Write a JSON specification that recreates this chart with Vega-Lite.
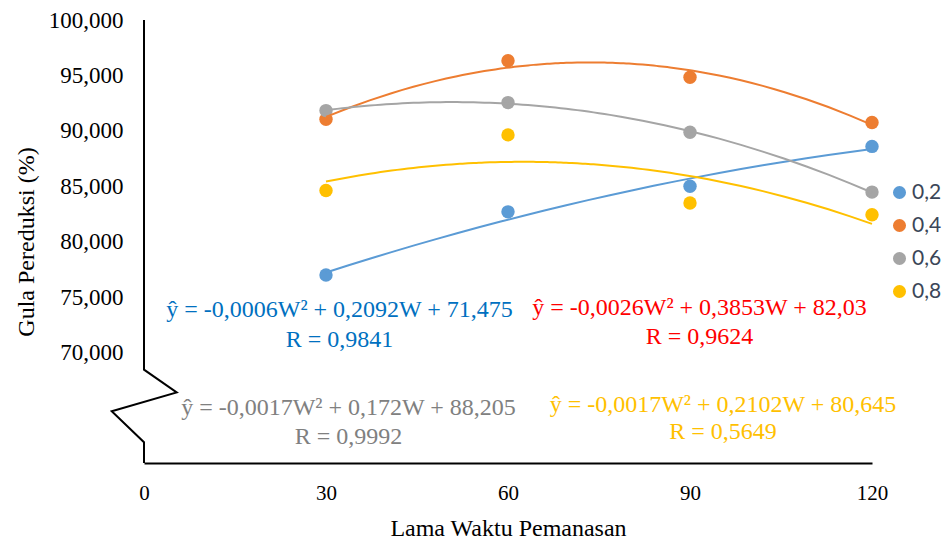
{
  "$schema": "https://vega.github.io/schema/vega-lite/v6.json",
  "width": 728,
  "height": 443,
  "autosize": {"type": "none"},
  "padding": {"left": 144, "top": 20, "right": 72, "bottom": 80},
  "background": "white",
  "config": {"view": {"stroke": null}, "font": "Liberation Serif"},
  "datasets": {
    "obs": [
      {"time": 30, "value": 77.0, "series": "0,2"},
      {"time": 60, "value": 82.7, "series": "0,2"},
      {"time": 90, "value": 85.0, "series": "0,2"},
      {"time": 120, "value": 88.6, "series": "0,2"},
      {"time": 30, "value": 91.05, "series": "0,4"},
      {"time": 60, "value": 96.33, "series": "0,4"},
      {"time": 90, "value": 94.84, "series": "0,4"},
      {"time": 120, "value": 90.75, "series": "0,4"},
      {"time": 30, "value": 91.83, "series": "0,6"},
      {"time": 60, "value": 92.55, "series": "0,6"},
      {"time": 90, "value": 89.88, "series": "0,6"},
      {"time": 120, "value": 84.48, "series": "0,6"},
      {"time": 30, "value": 84.62, "series": "0,8"},
      {"time": 60, "value": 89.64, "series": "0,8"},
      {"time": 90, "value": 83.49, "series": "0,8"},
      {"time": 120, "value": 82.43, "series": "0,8"}
    ],
    "brokenAxis": [
      {"k": 0, "time": 0, "value": 100},
      {"k": 1, "time": 0, "value": 68.47},
      {"k": 2, "time": 5.39, "value": 66.42},
      {"k": 3, "time": -5.32, "value": 64.71},
      {"k": 4, "time": 0, "value": 61.92},
      {"k": 5, "time": 0, "value": 60.05}
    ],
    "notes": [
      {"series": "0,2", "lines": ["ŷ = -0,0006W² + 0,2092W + 71,475", "R = 0,9841"]},
      {"series": "0,4", "lines": ["ŷ = -0,0026W² + 0,3853W + 82,03", "R = 0,9624"]},
      {"series": "0,6", "lines": ["ŷ = -0,0017W² + 0,172W + 88,205", "R = 0,9992"]},
      {"series": "0,8", "lines": ["ŷ = -0,0017W² + 0,2102W + 80,645", "R = 0,5649"]}
    ]
  },
  "layer": [
    {
      "data": {"name": "brokenAxis"},
      "mark": {"type": "line", "color": "black", "strokeWidth": 2, "clip": false},
      "encoding": {
        "x": {"field": "time", "type": "quantitative", "title": "Lama Waktu Pemanasan"},
        "y": {"field": "value", "type": "quantitative", "title": "Gula Pereduksi (%)"},
        "order": {"field": "k", "type": "quantitative"}
      }
    },
    {
      "data": {"name": "obs"},
      "mark": {"type": "circle", "size": 180, "opacity": 1},
      "encoding": {
        "x": {
          "field": "time",
          "type": "quantitative",
          "title": "Lama Waktu Pemanasan",
          "scale": {"domain": [0, 120], "nice": false, "zero": false},
          "axis": {
            "values": [0, 30, 60, 90, 120],
            "grid": false,
            "ticks": false,
            "domain": true,
            "domainColor": "black",
            "domainWidth": 2,
            "labelFont": "Liberation Serif",
            "labelFontSize": 21,
            "labelColor": "black",
            "labelPadding": 19,
            "labelFlush": false,
            "titleFont": "Liberation Serif",
            "titleFontSize": 24,
            "titleFontWeight": "normal",
            "titleColor": "black",
            "titlePadding": 13
          }
        },
        "y": {
          "field": "value",
          "type": "quantitative",
          "title": "Gula Pereduksi (%)",
          "scale": {"domain": [60.05, 100], "nice": false, "zero": false},
          "axis": {
            "values": [70, 75, 80, 85, 90, 95, 100],
            "labelExpr": "replace(format(datum.value, '.3f'), '.', ',')",
            "grid": false,
            "ticks": false,
            "domain": false,
            "labelFont": "Liberation Serif",
            "labelFontSize": 23,
            "labelColor": "black",
            "labelPadding": 21,
            "labelFlush": false,
            "titleFont": "Liberation Serif",
            "titleFontSize": 24,
            "titleFontWeight": "normal",
            "titleColor": "black",
            "titlePadding": 10
          }
        },
        "color": {
          "field": "series",
          "type": "nominal",
          "scale": {
            "domain": ["0,2", "0,4", "0,6", "0,8"],
            "range": ["#5B9BD5", "#ED7D31", "#A5A5A5", "#FFC000"]
          },
          "legend": {
            "title": null,
            "orient": "none",
            "legendX": 745,
            "legendY": 162,
            "padding": 0,
            "rowPadding": 11,
            "symbolType": "circle",
            "symbolSize": 170,
            "symbolStrokeWidth": 0,
            "labelFont": "Lato",
            "labelFontSize": 21,
            "labelColor": "#3B4658",
            "labelOffset": 2
          }
        }
      }
    },
    {
      "data": {"name": "obs"},
      "transform": [
        {
          "regression": "value",
          "on": "time",
          "groupby": ["series"],
          "method": "poly",
          "order": 2,
          "extent": [30, 120]
        }
      ],
      "mark": {"type": "line", "strokeWidth": 2},
      "encoding": {
        "x": {"field": "time", "type": "quantitative", "title": "Lama Waktu Pemanasan"},
        "y": {"field": "value", "type": "quantitative", "title": "Gula Pereduksi (%)"},
        "color": {"field": "series", "type": "nominal", "legend": null}
      }
    },
    {
      "data": {"name": "notes"},
      "transform": [{"filter": "datum.series === '0,2'"}],
      "mark": {
        "type": "text",
        "lineHeight": 30,
        "align": "center",
        "baseline": "middle",
        "font": "Liberation Serif",
        "fontSize": 24,
        "color": "#0070C0",
        "clip": false
      },
      "encoding": {
        "x": {"datum": 32.23, "type": "quantitative", "title": "Lama Waktu Pemanasan"},
        "y": {"datum": 73.85, "type": "quantitative", "title": "Gula Pereduksi (%)"},
        "text": {"field": "lines"}
      }
    },
    {
      "data": {"name": "notes"},
      "transform": [{"filter": "datum.series === '0,4'"}],
      "mark": {
        "type": "text",
        "lineHeight": 29,
        "align": "center",
        "baseline": "middle",
        "font": "Liberation Serif",
        "fontSize": 24,
        "color": "#FF0000",
        "clip": false
      },
      "encoding": {
        "x": {"datum": 91.57, "type": "quantitative", "title": "Lama Waktu Pemanasan"},
        "y": {"datum": 74.03, "type": "quantitative", "title": "Gula Pereduksi (%)"},
        "text": {"field": "lines"}
      }
    },
    {
      "data": {"name": "notes"},
      "transform": [{"filter": "datum.series === '0,6'"}],
      "mark": {
        "type": "text",
        "lineHeight": 29,
        "align": "center",
        "baseline": "middle",
        "font": "Liberation Serif",
        "fontSize": 24,
        "color": "#808080",
        "clip": false
      },
      "encoding": {
        "x": {"datum": 33.71, "type": "quantitative", "title": "Lama Waktu Pemanasan"},
        "y": {"datum": 65.01, "type": "quantitative", "title": "Gula Pereduksi (%)"},
        "text": {"field": "lines"}
      }
    },
    {
      "data": {"name": "notes"},
      "transform": [{"filter": "datum.series === '0,8'"}],
      "mark": {
        "type": "text",
        "lineHeight": 27,
        "align": "center",
        "baseline": "middle",
        "font": "Liberation Serif",
        "fontSize": 24,
        "color": "#FFC000",
        "clip": false
      },
      "encoding": {
        "x": {"datum": 95.44, "type": "quantitative", "title": "Lama Waktu Pemanasan"},
        "y": {"datum": 65.28, "type": "quantitative", "title": "Gula Pereduksi (%)"},
        "text": {"field": "lines"}
      }
    }
  ]
}
